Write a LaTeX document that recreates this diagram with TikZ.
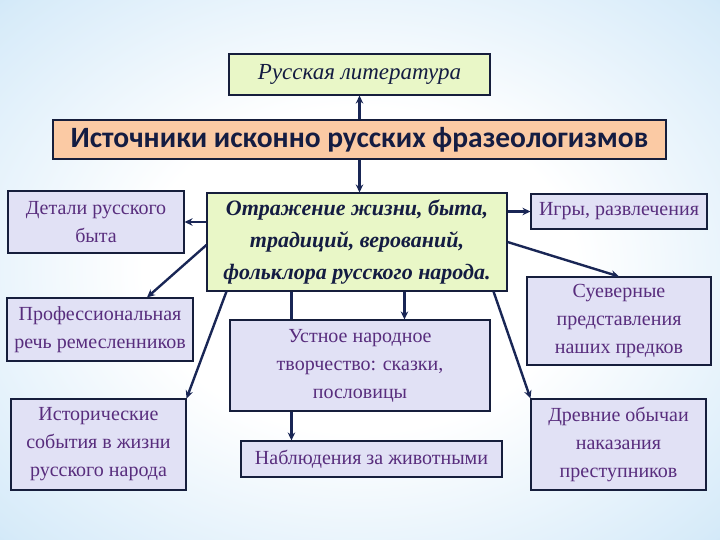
\documentclass[tikz,border=0pt]{standalone}
\usepackage{fontspec}
\setmainfont{Liberation Serif}
\newfontfamily\titlefont{Carlito}
\usetikzlibrary{arrows.meta,calc}
\definecolor{grnfill}{RGB}{233,247,199}
\definecolor{peachfill}{RGB}{251,202,164}
\definecolor{lavfill}{RGB}{225,225,245}
\definecolor{boxline}{RGB}{22,30,60}
\definecolor{purptext}{RGB}{88,45,125}
\definecolor{navytext}{RGB}{20,28,66}
\definecolor{arrcol}{RGB}{25,38,85}
\definecolor{bgmid}{RGB}{215,235,249}
\definecolor{bgedge}{RGB}{165,212,242}
\definecolor{bgcorner}{RGB}{140,200,240}
\pgfdeclareradialshading{bgshade}{\pgfpoint{0bp}{0bp}}{color(0bp)=(white); color(15bp)=(white); color(34bp)=(bgmid); color(50bp)=(bgedge); color(72bp)=(bgcorner)}
\begin{document}
\begin{tikzpicture}[x=1pt,y=-1pt,
  box/.style={draw=boxline, line width=1.1pt, inner sep=0pt, align=center, anchor=center},
  lav/.style={box, fill=lavfill, text=purptext, font=\fontsize{20}{28}\selectfont},
  grn/.style={box, fill=grnfill, text=navytext},
  arr/.style={draw=arrcol, line width=2.4pt, -{Stealth[length=8pt,width=7.5pt]}}]
\useasboundingbox (0,0) rectangle (720,540);
\shade[shading=bgshade] (0,0) rectangle (720,540);

\node[grn, minimum width=261pt, minimum height=41pt, font=\itshape\fontsize{23}{26}\selectfont] (A) at (359.5,74.5) {Русская литература};
\node[box, fill=peachfill, text=navytext, minimum width=613pt, minimum height=39pt, font=\titlefont\bfseries\fontsize{29.5}{32}\selectfont] (T) at (359.5,139.5) {Источники исконно русских фразеологизмов};
\node[grn, minimum width=300pt, minimum height=98pt, font=\bfseries\itshape\fontsize{22}{32}\selectfont] (C) at (357,242) {Отражение жизни, быта,\\традиций, верований,\\фольклора русского народа.};
\node[lav, minimum width=176pt, minimum height=62pt] (D) at (96,222) {Детали русского\\быта};
\node[lav, minimum width=186pt, minimum height=63pt] (P) at (100,329.5) {Профессиональная\\речь ремесленников};
\node[lav, minimum width=175pt, minimum height=91pt] (I) at (98.5,444.5) {Исторические\\события в жизни\\русского народа};
\node[lav, minimum width=261pt, minimum height=36pt] (N) at (371.5,459) {Наблюдения за животными};
\node[lav, minimum width=176pt, minimum height=35pt] (G) at (619,211.5) {Игры, развлечения};
\node[lav, minimum width=184pt, minimum height=88pt] (S) at (619,321) {Суеверные\\представления\\наших предков};
\node[lav, minimum width=175pt, minimum height=91pt] (R) at (618.5,444.5) {Древние обычаи\\наказания\\преступников};

\draw[arr] ([xshift=85pt]C.south west) -- ([xshift=51pt]N.north west);

\node[lav, minimum width=260pt, minimum height=91pt] (U) at (360,365.5) {Устное народное\\творчество: сказки,\\пословицы};

\draw[arr] (T.north) -- (A.south);
\draw[arr] (T.south) -- (T.south |- C.north);
\draw[arr] (C.west |- D.east) -- (D.east);
\draw[arr] (C.east |- G.west) -- (G.west);
\draw[arr] ([yshift=-3pt]C.west) -- ([xshift=47pt]P.north);
\draw[arr] (C.east) -- (S.north);
\draw[arr] ([xshift=20pt]C.south west) -- (I.north east);
\draw[arr] ([xshift=198pt]C.south west) -- ([xshift=175pt]U.north west);
\draw[arr] ([xshift=-14pt]C.south east) -- (R.north west);
\end{tikzpicture}
\end{document}
